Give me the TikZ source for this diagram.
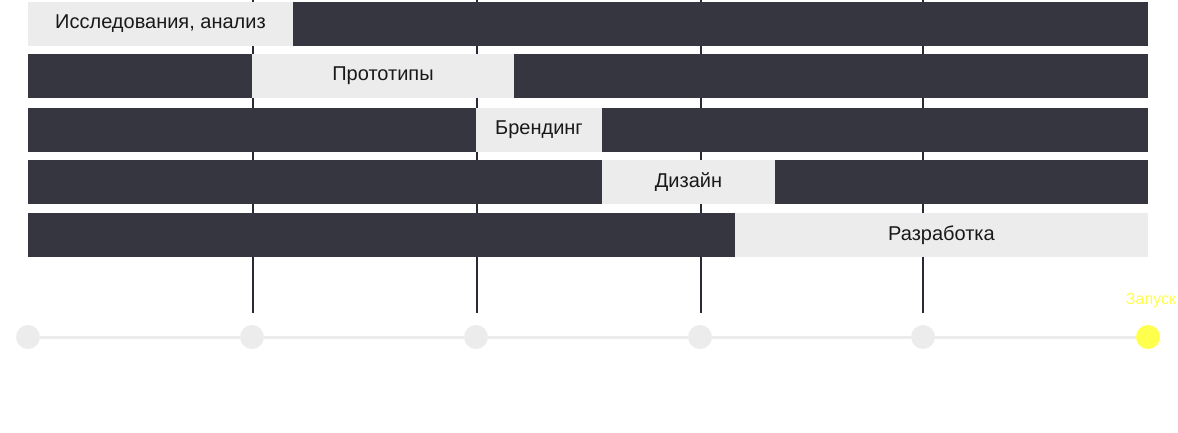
\documentclass[tikz,border=0pt]{standalone}
\usepackage{fontspec}
\setmainfont{Liberation Sans}
\usepackage{xcolor}
\usetikzlibrary{positioning}

\definecolor{barDark}{HTML}{363640}
\definecolor{barLight}{HTML}{ECECEC}
\definecolor{tickCol}{HTML}{2A2A36}
\definecolor{launchCol}{HTML}{FFFF4D}

\begin{document}
\begin{tikzpicture}[
    x=1pt, y=-1pt,
    seg/.style={rectangle, inner sep=0pt, outer sep=0pt, anchor=north west,
                minimum height=44pt},
    dark/.style={seg, fill=barDark},
    light/.style={seg, fill=barLight, font=\fontsize{20}{24}\selectfont, text=black!90},
    tick/.style={tickCol, line width=2.5pt},
    dot/.style={circle, fill=barLight, minimum size=24pt, inner sep=0pt},
    axis/.style={barLight, line width=3pt},
  ]
    \useasboundingbox (0,0) rectangle (1178,433);

    % Milestone ticks (behind the bars)
    \coordinate (t1) at (253,0);
    \coordinate (t2) at (477,0);
    \coordinate (t3) at (701,0);
    \coordinate (t4) at (923,0);
    \draw[tick] (t1) -- ++(0,313);
    \draw[tick] (t2) -- ++(0,313);
    \draw[tick] (t3) -- ++(0,313);
    \draw[tick] (t4) -- ++(0,313);

    % Research
    \node[light, minimum width=265pt] (research) at (28,2) {Исследования, анализ};
    \node[dark, minimum width=855pt] (researchR) at (293,2) {};

    % Prototypes
    \node[dark, minimum width=224pt] (protoL) at (28,54) {};
    \node[light, minimum width=262pt] (proto) at (252,54) {Прототипы};
    \node[dark, minimum width=634pt] (protoR) at (514,54) {};

    % Branding
    \node[dark, minimum width=448pt] (brandL) at (28,108) {};
    \node[light, minimum width=126pt] (brand) at (476,108) {Брендинг};
    \node[dark, minimum width=546pt] (brandR) at (602,108) {};

    % Design
    \node[dark, minimum width=574pt] (designL) at (28,160) {};
    \node[light, minimum width=173pt] (design) at (602,160) {Дизайн};
    \node[dark, minimum width=373pt] (designR) at (775,160) {};

    % Development
    \node[dark, minimum width=707pt] (devL) at (28,213) {};
    \node[light, minimum width=413pt] (dev) at (735,213) {Разработка};

    % Timeline
    \node[dot] (d1) at (28,337) {};
    \node[dot] (d2) at (252,337) {};
    \node[dot] (d3) at (476,337) {};
    \node[dot] (d4) at (700,337) {};
    \node[dot] (d5) at (923,337) {};
    \node[dot, fill=launchCol] (d6) at (1148,337) {};
    \draw[axis] (d1) -- (d2);
    \draw[axis] (d2) -- (d3);
    \draw[axis] (d3) -- (d4);
    \draw[axis] (d4) -- (d5);
    \draw[axis] (d5) -- (d6);

    % Launch label
    \node[above=13pt of d6, xshift=3pt, text=launchCol,
          font=\fontsize{16}{18}\selectfont] (launch) {Запуск};
\end{tikzpicture}
\end{document}
